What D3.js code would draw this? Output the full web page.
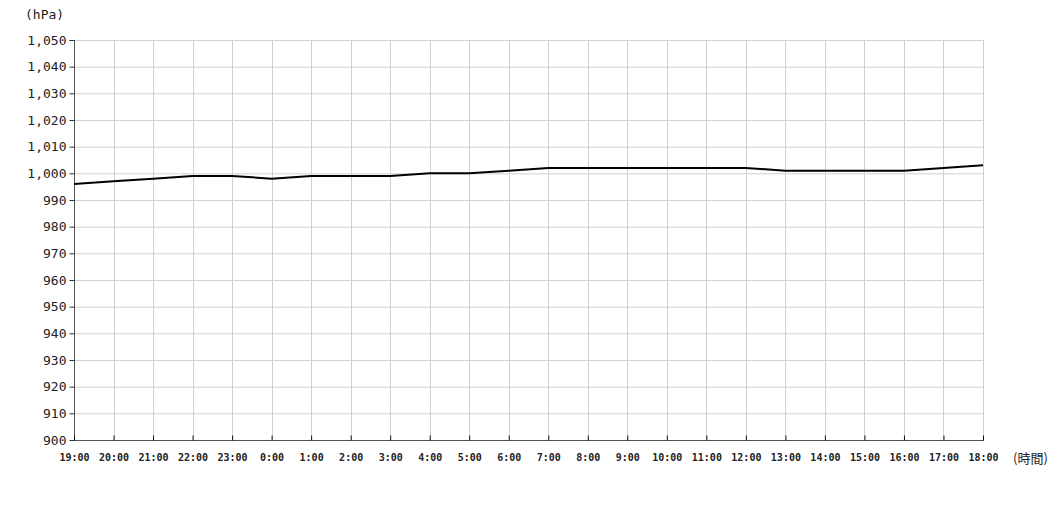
<!DOCTYPE html>
<html><head><meta charset="utf-8">
<script src="https://cdn.jsdelivr.net/npm/d3@7"></script>
<style>body{margin:0;background:#fff}svg{display:block}</style>
</head><body>
<script>
const hours = ["19:00","20:00","21:00","22:00","23:00","0:00","1:00","2:00","3:00","4:00","5:00","6:00","7:00","8:00","9:00","10:00","11:00","12:00","13:00","14:00","15:00","16:00","17:00","18:00"];
const pressure = [996,997,998,999,999,998,999,999,999,1000,1000,1001,1002,1002,1002,1002,1002,1002,1001,1001,1001,1001,1002,1003];
const yTicks = [900,910,920,930,940,950,960,970,980,990,1000,1010,1020,1030,1040,1050];

const W=1058,H=529;
const m={l:74,r:75,t:40,b:89};
const svg=d3.select("body").append("svg").attr("width",W).attr("height",H);
const x=d3.scalePoint().domain(hours).range([m.l,W-m.r]);
const y=d3.scaleLinear().domain([900,1050]).range([H-m.b,m.t]);
const font="'DejaVu Sans Mono', monospace";

// grid
svg.append("g").selectAll("line").data(yTicks).join("line")
 .attr("x1",m.l).attr("x2",W-m.r).attr("y1",d=>y(d)+0.5).attr("y2",d=>y(d)+0.5)
 .attr("stroke","#d0d0d0").attr("stroke-width",1);
svg.append("g").selectAll("line").data(hours).join("line")
 .attr("x1",d=>Math.round(x(d))+0.5).attr("x2",d=>Math.round(x(d))+0.5).attr("y1",m.t).attr("y2",H-m.b)
 .attr("stroke","#d0d0d0").attr("stroke-width",1);

// y axis
const fmt=d3.format(",");
const ya=svg.append("g").attr("transform",`translate(${m.l+0.5},0)`)
 .call(d3.axisLeft(y).tickValues(yTicks).tickFormat(fmt).tickSize(5).tickPadding(3));
ya.select(".domain").attr("stroke","#555").attr("d",`M-5,${m.t+0.5}H0V${H-m.b+0.5}`);
ya.selectAll(".tick line").attr("stroke","#333");
ya.selectAll("text").attr("font-family",font).attr("font-size",13).attr("fill","#222");

// x axis
const xa=svg.append("g").attr("transform",`translate(0,${H-m.b+0.5})`)
 .call(d3.axisBottom(x).tickSize(-5).tickPadding(13));
xa.select(".domain").attr("stroke","#555").attr("d",`M${m.l},0H${W-m.r+1}`);
xa.selectAll(".tick line").attr("stroke","#111");
xa.selectAll("text").attr("font-family",font).attr("font-size",10).attr("font-weight","bold").attr("fill","#222");

// line
svg.append("path").datum(pressure)
 .attr("d",d3.line().x((d,i)=>x(hours[i])).y(d=>y(d)))
 .attr("fill","none").attr("stroke","#000").attr("stroke-width",2);

// unit labels
svg.append("text").attr("x",25).attr("y",19).text("(hPa)")
 .attr("font-family",font).attr("font-size",13).attr("fill","#222");
svg.append("text").attr("x",1013).attr("y",463).text("(時間)")
 .attr("font-family","'Noto Sans CJK JP', "+font).attr("font-size",13).attr("fill","#222");
</script>
</body></html>
